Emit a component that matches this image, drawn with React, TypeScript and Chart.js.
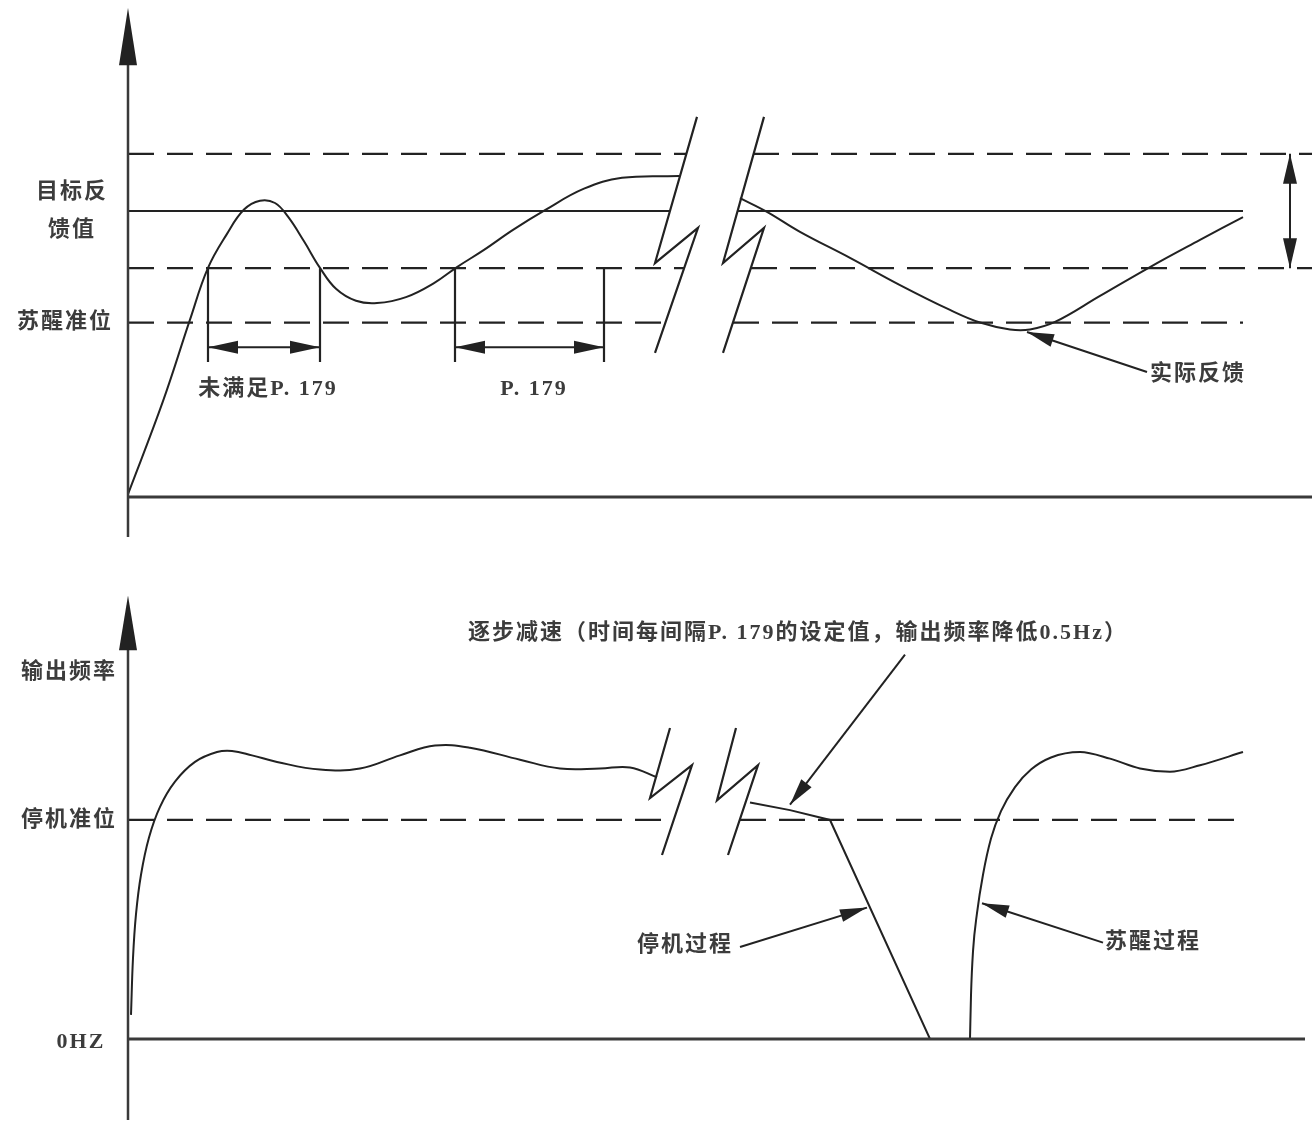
import React, { useEffect, useRef } from "react";
import { Chart, registerables } from "chart.js";

Chart.register(...registerables);

// ---------- shared time axis (arbitrary time units) ----------
const T_MIN = -12.8;
const T_MAX = 118.4;

// ---------- TOP PANEL: feedback value (target = 100) ----------
const TOP_V_MIN = -22.03;
const TOP_V_MAX = 173.78;
const TARGET = 100;
const UPPER_BAND = 120;
const LOWER_BAND = 80;
const WAKE_LEVEL = 61;

const levelValues = [UPPER_BAND, TARGET, LOWER_BAND, WAKE_LEVEL];
const levelDashed = [true, false, true, true];
const levelLeftEnd = [55.8, 54.2, 55.6, 53.8];
const levelRightStart = [62.5, 61.0, 62.3, 60.5];
const levelRightEnd = [118.4, 111.5, 118.4, 111.5];

const feedbackBeforeT = [0, 3.5, 6.2, 8.0, 9.9, 11.6, 13.2, 14.7, 16.0, 17.6, 19.2, 20.8, 22.8, 24.9, 27.8, 30.6, 32.9, 35.6, 38.5, 41.7, 45.6, 49.4, 55.1];
const feedbackBeforeV = [1.0, 33.5, 62.0, 80.1, 92.0, 100.5, 103.6, 102.8, 98.0, 89.4, 80.1, 72.8, 68.6, 67.8, 69.9, 74.8, 80.4, 86.4, 93.4, 100.3, 107.8, 111.6, 112.2];

const feedbackAfterT = [61.2, 63.9, 67.2, 72.2, 77.2, 82.2, 85.2, 88.2, 90.2, 92.7, 97.2, 102.2, 107.2, 111.5];
const feedbackAfterV = [104.5, 99.7, 92.7, 83.6, 74.1, 65.4, 61.0, 58.6, 58.6, 61.2, 70.3, 80.4, 89.9, 97.9];

const topBreakLeftT = [56.9, 52.7, 57.0, 52.7];
const topBreakLeftV = [132.9, 81.8, 94.1, 50.4];
const topBreakRightT = [63.6, 59.5, 63.6, 59.5];
const topBreakRightV = [132.9, 81.8, 94.1, 50.4];

const intervalStart = [8.0, 32.7];
const intervalEnd = [19.2, 47.6];
const intervalLabels = ["未满足P. 179", "P. 179"];
const intervalLabelT = [13.9, 40.5];
const INTERVAL_BOTTOM = 47.2;
const INTERVAL_ARROW_V = 52.4;
const INTERVAL_LABEL_V = 37.6;

const BAND_ARROW_T = 116.2;

const topLabels = ["目标反", "馈值", "苏醒准位", "实际反馈"];
const topLabelT = [-5.7, -5.7, -6.4, 106.9];
const topLabelV = [106.6, 93.4, 61.2, 43.0];
const topCalloutFrom = [[101.9, 43.7]];
const topCalloutTip = [[89.9, 57.7]];

const TOP_AXIS_BOTTOM = -14;
const TOP_AXIS_TIP = 171.0;
const TOP_AXIS_BASE = 151.0;

// ---------- BOTTOM PANEL: output frequency (Hz-like units) ----------
const BOT_F_MIN = -7.58;
const BOT_F_MAX = 43.74;
const STOP_LEVEL = 20;
const STOP_LEFT_END = 54.6;
const STOP_RIGHT_START = 61.2;
const STOP_RIGHT_END = 111.5;
const ZERO_END = 117.7;

const freqBeforeT = [0.3, 0.5, 0.8, 1.3, 2.1, 3.2, 4.7, 6.7, 8.9, 10.4, 12.4, 14.9, 19.2, 23.2, 27.2, 30.7, 34.2, 39.2, 43.2, 47.2, 50.2, 52.9];
const freqBeforeF = [2.2, 7.4, 11.4, 15.0, 18.4, 21.2, 23.5, 25.3, 26.2, 26.3, 25.9, 25.3, 24.6, 24.7, 25.9, 26.8, 26.6, 25.5, 24.7, 24.7, 24.8, 23.9];

const stopT = [62.2, 66.2, 70.2, 80.2, 84.2];
const stopF = [21.6, 20.9, 20.0, 0, 0];

const wakeT = [84.2, 84.3, 84.5, 84.9, 85.5, 86.3, 87.3, 88.7, 90.3, 92.3, 95.2, 98.2, 101.2, 104.2, 107.2, 111.5];
const wakeF = [0, 4.0, 8.0, 11.5, 15.0, 18.3, 20.8, 23.0, 24.6, 25.7, 26.2, 25.6, 24.7, 24.4, 25.0, 26.2];

const botBreakLeftT = [54.2, 52.2, 56.4, 53.4];
const botBreakLeftF = [28.4, 22.0, 25.0, 16.8];
const botBreakRightT = [60.8, 58.9, 63.0, 60.0];
const botBreakRightF = [28.4, 21.8, 25.0, 16.8];

const botLabels = ["输出频率", "停机准位", "0HZ", "逐步减速（时间每间隔P. 179的设定值，输出频率降低0.5Hz）", "停机过程", "苏醒过程"];
const botLabelT = [-6.0, -6.0, -4.8, 66.9, 55.6, 102.4];
const botLabelF = [33.5, 20.0, -0.3, 37.0, 8.6, 8.8];
const botCalloutFrom = [[77.7, 35.1], [61.2, 8.4], [97.5, 8.8]];
const botCalloutTip = [[66.2, 21.4], [73.9, 12.0], [85.4, 12.4]];

const BOT_AXIS_BOTTOM = -7.4;
const BOT_AXIS_TIP = 40.5;
const BOT_AXIS_BASE = 35.5;

// ---------- styling ----------
const INK = "#222222";
const AXIS_INK = "#3a3a3a";
const TEXT_INK = "#3c3c3c";
const FONT = 'bold 22px "Liberation Serif", "Noto Sans CJK SC"';
const LETTER_SPACING = "2px";
const DASH = [26, 13];

const zip = (xs: number[], ys: number[]) => xs.map((x, i) => ({ x, y: ys[i] }));

function seg(data: { x: number; y: number }[], opts: any = {}) {
  return {
    data,
    borderColor: INK,
    borderWidth: 2,
    pointRadius: 0,
    fill: false,
    tension: 0,
    clip: false,
    ...opts,
  };
}

function arrowHead(ctx: CanvasRenderingContext2D, fx: number, fy: number, tx: number, ty: number, len: number, halfW: number) {
  const dx = tx - fx;
  const dy = ty - fy;
  const d = Math.hypot(dx, dy) || 1;
  const ux = dx / d;
  const uy = dy / d;
  const bx = tx - ux * len;
  const by = ty - uy * len;
  ctx.beginPath();
  ctx.moveTo(tx, ty);
  ctx.lineTo(bx - uy * halfW, by + ux * halfW);
  ctx.lineTo(bx + uy * halfW, by - ux * halfW);
  ctx.closePath();
  ctx.fill();
}

function drawText(ctx: CanvasRenderingContext2D, s: string, x: number, y: number) {
  ctx.fillStyle = TEXT_INK;
  ctx.font = FONT;
  (ctx as any).letterSpacing = LETTER_SPACING;
  ctx.textAlign = "center";
  ctx.textBaseline = "middle";
  ctx.fillText(s, x + 1, y);
}

type Overlay = {
  labels: string[];
  labelT: number[];
  labelV: number[];
  calloutFrom: number[][];
  calloutTip: number[][];
  axisTip: number;
  axisBase: number;
  extra?: (chart: any, P: (t: number, v: number) => number[]) => void;
};

function makeOverlay(o: Overlay) {
  return {
    id: "schematicOverlay",
    afterDatasetsDraw(chart: any) {
      const ctx: CanvasRenderingContext2D = chart.ctx;
      const sx = chart.scales.x;
      const sy = chart.scales.y;
      const P = (t: number, v: number) => [sx.getPixelForValue(t), sy.getPixelForValue(v)];
      ctx.save();
      ctx.fillStyle = INK;
      ctx.strokeStyle = INK;
      const [ax, ay] = P(0, o.axisTip);
      const [, aby] = P(0, o.axisBase);
      arrowHead(ctx, ax, aby, ax, ay, aby - ay, 9);
      ctx.lineWidth = 2;
      o.calloutFrom.forEach((f, i) => {
        const [fx, fy] = P(f[0], f[1]);
        const [tx, ty] = P(o.calloutTip[i][0], o.calloutTip[i][1]);
        ctx.beginPath();
        ctx.moveTo(fx, fy);
        ctx.lineTo(tx, ty);
        ctx.stroke();
        arrowHead(ctx, fx, fy, tx, ty, 27, 6.5);
      });
      if (o.extra) o.extra(chart, P);
      o.labels.forEach((s, i) => {
        const [x, y] = P(o.labelT[i], o.labelV[i]);
        drawText(ctx, s, x, y);
      });
      ctx.restore();
    },
  };
}

function baseOptions(yMin: number, yMax: number) {
  return {
    responsive: false,
    animation: false as const,
    events: [] as any[],
    layout: { padding: 0 },
    plugins: { legend: { display: false }, tooltip: { enabled: false } },
    scales: {
      x: { type: "linear" as const, display: false, min: T_MIN, max: T_MAX },
      y: { type: "linear" as const, display: false, min: yMin, max: yMax },
    },
  };
}

const CURVE = { tension: 0.4, borderWidth: 2 };

function topDatasets() {
  const ds: any[] = [];
  ds.push(seg([{ x: 0, y: TOP_AXIS_BOTTOM }, { x: 0, y: TOP_AXIS_BASE + 2 }], { borderColor: AXIS_INK, borderWidth: 2.5 }));
  ds.push(seg([{ x: 0, y: 0 }, { x: T_MAX, y: 0 }], { borderColor: AXIS_INK, borderWidth: 3 }));
  levelValues.forEach((v, i) => {
    const style = levelDashed[i] ? { borderDash: DASH, borderWidth: 2.2 } : { borderWidth: 2.2 };
    ds.push(seg([{ x: 0, y: v }, { x: levelLeftEnd[i], y: v }], style));
    ds.push(seg([{ x: levelRightStart[i], y: v }, { x: levelRightEnd[i], y: v }], style));
  });
  ds.push(seg(zip(feedbackBeforeT, feedbackBeforeV), CURVE));
  ds.push(seg(zip(feedbackAfterT, feedbackAfterV), CURVE));
  ds.push(seg(zip(topBreakLeftT, topBreakLeftV), { borderWidth: 2.2 }));
  ds.push(seg(zip(topBreakRightT, topBreakRightV), { borderWidth: 2.2 }));
  intervalStart.forEach((s, i) => {
    const e = intervalEnd[i];
    ds.push(seg([{ x: s, y: LOWER_BAND }, { x: s, y: INTERVAL_BOTTOM }], { borderWidth: 2.2 }));
    ds.push(seg([{ x: e, y: LOWER_BAND }, { x: e, y: INTERVAL_BOTTOM }], { borderWidth: 2.2 }));
    ds.push(seg([{ x: s, y: INTERVAL_ARROW_V }, { x: e, y: INTERVAL_ARROW_V }], { borderWidth: 2 }));
  });
  ds.push(seg([{ x: BAND_ARROW_T, y: UPPER_BAND }, { x: BAND_ARROW_T, y: LOWER_BAND }], { borderWidth: 2 }));
  return ds;
}

function bottomDatasets() {
  const ds: any[] = [];
  ds.push(seg([{ x: 0, y: BOT_AXIS_BOTTOM }, { x: 0, y: BOT_AXIS_BASE + 0.2 }], { borderColor: AXIS_INK, borderWidth: 2.5 }));
  ds.push(seg([{ x: 0, y: 0 }, { x: ZERO_END, y: 0 }], { borderColor: AXIS_INK, borderWidth: 3 }));
  ds.push(seg([{ x: 0, y: STOP_LEVEL }, { x: STOP_LEFT_END, y: STOP_LEVEL }], { borderDash: DASH, borderWidth: 2.2 }));
  ds.push(seg([{ x: STOP_RIGHT_START, y: STOP_LEVEL }, { x: STOP_RIGHT_END, y: STOP_LEVEL }], { borderDash: DASH, borderWidth: 2.2 }));
  ds.push(seg(zip(freqBeforeT, freqBeforeF), CURVE));
  ds.push(seg(zip(stopT, stopF), {}));
  ds.push(seg(zip(wakeT, wakeF), { cubicInterpolationMode: "monotone" }));
  ds.push(seg(zip(botBreakLeftT, botBreakLeftF), { borderWidth: 2.2 }));
  ds.push(seg(zip(botBreakRightT, botBreakRightF), { borderWidth: 2.2 }));
  return ds;
}

const topOverlay = makeOverlay({
  labels: topLabels,
  labelT: topLabelT,
  labelV: topLabelV,
  calloutFrom: topCalloutFrom,
  calloutTip: topCalloutTip,
  axisTip: TOP_AXIS_TIP,
  axisBase: TOP_AXIS_BASE,
  extra: (chart, P) => {
    const ctx: CanvasRenderingContext2D = chart.ctx;
    intervalStart.forEach((s, i) => {
      const [x1, y] = P(s, INTERVAL_ARROW_V);
      const [x2] = P(intervalEnd[i], INTERVAL_ARROW_V);
      arrowHead(ctx, x2, y, x1, y, 30, 6.5);
      arrowHead(ctx, x1, y, x2, y, 30, 6.5);
    });
    const [bx, by1] = P(BAND_ARROW_T, UPPER_BAND);
    const [, by2] = P(BAND_ARROW_T, LOWER_BAND);
    arrowHead(ctx, bx, by2, bx, by1, 30, 7);
    arrowHead(ctx, bx, by1, bx, by2, 30, 7);
    intervalLabels.forEach((s, i) => {
      const [x, y] = P(intervalLabelT[i], INTERVAL_LABEL_V);
      drawText(ctx, s, x, y);
    });
    ctx.fillStyle = INK;
  },
});

const bottomOverlay = makeOverlay({
  labels: botLabels,
  labelT: botLabelT,
  labelV: botLabelF,
  calloutFrom: botCalloutFrom,
  calloutTip: botCalloutTip,
  axisTip: BOT_AXIS_TIP,
  axisBase: BOT_AXIS_BASE,
});

export default function App() {
  const topRef = useRef<HTMLCanvasElement>(null);
  const botRef = useRef<HTMLCanvasElement>(null);

  useEffect(() => {
    const top = new Chart(topRef.current as HTMLCanvasElement, {
      type: "line",
      data: { datasets: topDatasets() },
      options: baseOptions(TOP_V_MIN, TOP_V_MAX) as any,
      plugins: [topOverlay as any],
    });
    const bot = new Chart(botRef.current as HTMLCanvasElement, {
      type: "line",
      data: { datasets: bottomDatasets() },
      options: baseOptions(BOT_F_MIN, BOT_F_MAX) as any,
      plugins: [bottomOverlay as any],
    });
    return () => {
      top.destroy();
      bot.destroy();
    };
  }, []);

  return (
    <div style={{ position: "absolute", left: 0, top: 0, width: 1312, height: 1122, background: "#ffffff" }}>
      <canvas ref={topRef} width={1312} height={560} style={{ display: "block", width: 1312, height: 560 }} />
      <canvas ref={botRef} width={1312} height={562} style={{ display: "block", width: 1312, height: 562 }} />
    </div>
  );
}
